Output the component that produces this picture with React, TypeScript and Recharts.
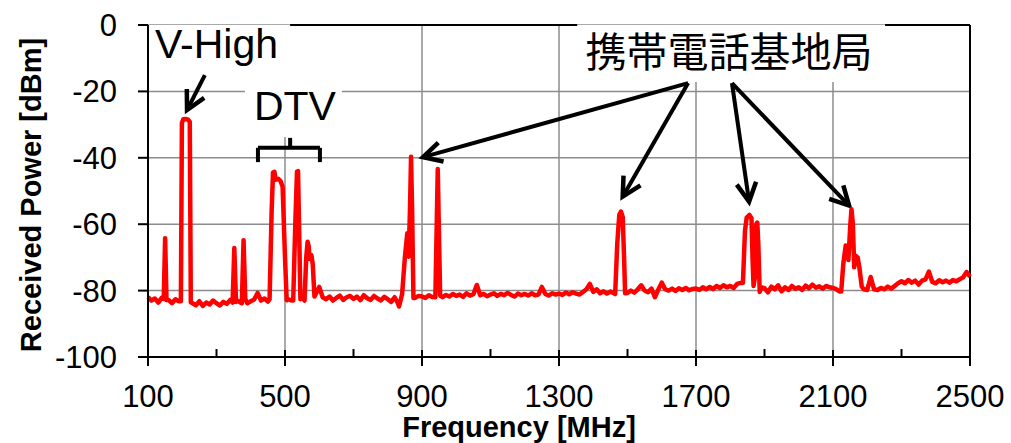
import React from 'react';
import { LineChart, Line, XAxis, YAxis, CartesianGrid, ReferenceArea, ReferenceLine } from 'recharts';

const FONT = '"Liberation Sans", Arial, sans-serif';
const JP_FONT = '"Noto Sans CJK JP", "Noto Sans CJK SC", sans-serif';

// ---- axes ----
const xTicks = [100, 500, 900, 1300, 1700, 2100, 2500];
const xMinorTicks = [300, 700, 1100, 1500, 1900, 2300];
const xInnerMajor = [500, 900, 1300, 1700, 2100];
const yTicks = [0, -20, -40, -60, -80, -100];

// ---- measured noise floor, 10 MHz grid from 100 MHz ----
const noiseStartMHz = 100;
const noiseStepMHz = 10;
const noiseFloorDbm = [
  -82.0, -83.0, -82.4, -83.6, -82.2, -83.4, -82.8, -83.8, -82.6, -83.2, // 100
  -83.5, -84.0, -82.9, -83.8, -84.4, -83.2, -84.6, -83.6, -84.2, -83.0, // 200
  -83.8, -84.5, -83.4, -84.0, -82.8, -83.9, -83.0, -83.6, -82.6, -83.8, // 300
  -83.2, -82.7, -80.7, -83.0, -82.4, -83.3, -82.6, -83.0, -82.5, -82.8, // 400
  -83.3, -82.6, -83.0, -82.4, -83.0, -82.2, -82.8, -82.0, -81.4, -81.0, // 500
  -78.9, -82.0, -82.6, -81.8, -83.0, -82.2, -81.5, -82.8, -82.0, -81.6, // 600
  -82.5, -81.8, -82.9, -81.4, -82.3, -82.8, -81.6, -82.4, -83.0, -81.9, // 700
  -82.6, -83.4, -82.0, -83.9, -83.0, -82.0, -82.0, -82.0, -82.2, -81.6, // 800
  -81.8, -82.2, -81.4, -81.9, -81.2, -81.5, -82.0, -81.3, -81.8, -81.0, // 900
  -81.6, -81.2, -81.9, -80.8, -81.5, -81.1, -78.3, -81.4, -81.0, -81.7, // 1000
  -81.2, -80.8, -81.6, -81.0, -81.4, -80.7, -81.3, -81.8, -80.9, -81.4, // 1100
  -81.0, -81.5, -80.8, -81.4, -81.2, -78.9, -81.0, -81.5, -80.8, -81.2, // 1200
  -80.9, -81.3, -80.6, -81.1, -80.5, -80.9, -81.2, -80.4, -79.6, -78.0, // 1300
  -80.4, -79.6, -80.8, -80.2, -80.9, -80.3, -80.8, -80.0, -80.0, -80.0, // 1400
  -80.7, -80.0, -80.6, -79.6, -78.4, -80.0, -80.5, -79.4, -82.0, -79.7, // 1500
  -77.6, -79.6, -80.0, -79.4, -80.1, -79.3, -79.8, -79.2, -79.9, -79.5, // 1600
  -79.4, -79.8, -79.0, -79.6, -78.9, -79.5, -78.6, -79.2, -78.4, -79.0, // 1700
  -78.6, -79.2, -78.0, -77.7, -79.0, -79.0, -79.0, -79.0, -79.0, -79.0, // 1800
  -79.3, -80.5, -78.8, -79.6, -78.4, -80.2, -79.0, -79.8, -78.6, -79.4, // 1900
  -79.0, -79.8, -78.5, -79.3, -78.2, -79.1, -78.7, -79.4, -78.6, -79.0, // 2000
  -79.2, -79.6, -80.3, -79.0, -79.0, -79.0, -79.0, -79.0, -79.0, -79.6, // 2100
  -79.8, -75.9, -79.6, -79.8, -79.2, -79.6, -78.8, -79.4, -78.6, -77.8, // 2200
  -77.2, -77.8, -76.8, -77.6, -77.0, -78.2, -77.0, -76.6, -74.3, -77.4, // 2300
  -77.8, -76.9, -77.5, -77.0, -77.6, -76.8, -77.2, -76.6, -76.0, -74.4, // 2400
  -75.8, // 2500
];

// ---- signal peaks [MHz, dBm] ----
const peak150: number[][] = [[146, -82.5], [150, -64.2], [154, -82.8]];
const peakVHigh: number[][] = [[196, -83.2], [199, -29.5], [203, -28.4], [210, -28.3], [217, -28.5], [222, -29.2], [225, -83.5]];
const peak352: number[][] = [[347, -83.6], [352, -67.2], [357, -83.4]];
const peak379: number[][] = [[374, -83.8], [379, -64.8], [384, -82.5]];
const peakDtv1: number[][] = [[455, -82.6], [461, -56], [465, -44.4], [469, -44.2], [473, -46.6], [480, -46.3], [487, -47.0], [493, -48.7], [500, -70], [505, -82.9]];
const peakDtv2: number[][] = [[524, -83.0], [530, -60], [535, -44.2], [538, -44.0], [541, -60], [545, -82.6]];
const peakDtv3: number[][] = [[557, -83.0], [562, -70], [566, -65.3], [569, -66.5], [572, -70.5], [577, -69.3], [581, -72], [586, -81.8]];
const peak868: number[][] = [[833, -84.8], [842, -81], [850, -70], [857, -62.7], [861, -69.8], [865, -55], [868, -39.7], [871, -55], [875, -82.2]];
const peak946: number[][] = [[939, -82.0], [943, -60], [946, -43.4], [949, -60], [953, -81.5]];
const peak1480: number[][] = [[1464, -81.0], [1470, -66], [1476, -57.2], [1481, -56.2], [1486, -57.8], [1490, -70], [1493, -80.8]];
const peak1858: number[][] = [[1837, -77.7], [1843, -62], [1848, -58], [1856, -57.2], [1862, -58.2], [1865, -70], [1868, -78.6], [1872, -76], [1876, -60], [1879, -59.5], [1882, -66], [1886, -80.4]];
const peak2154: number[][] = [[2124, -80.3], [2130, -72], [2137, -66.4], [2141, -67.2], [2145, -70.8], [2150, -61], [2154, -55.5], [2158, -60], [2162, -73], [2166, -69.5], [2172, -70], [2177, -73], [2184, -78.8]];

const peakSegments = [peak150, peakVHigh, peak352, peak379, peakDtv1, peakDtv2, peakDtv3, peak868, peak946, peak1480, peak1858, peak2154];

// ---- annotations (data coords) ----
const vHighArrow = [[266, -15.1], [214, -25.6]];
const cellArrows = [
  [[1677, -17.5], [903, -39.8]],
  [[1677, -17.5], [1486, -51.7]],
  [[1805, -17.5], [1855, -53.2]],
  [[1805, -17.5], [2147, -54.4]],
];
const dtvBracket = { left: 421, right: 602, center: 515, level: -37, tipDown: -41.3, tipUp: -34 };
const vHighBox = { x1: 103, x2: 515, y1: 0, y2: -16.6 };
const dtvBox = { x1: 383, x2: 666, y1: -16, y2: -33.7 };
const cellBox = { x1: 1353, x2: 2252, y1: 0, y2: -17.2 };

// ---- build table ----
const inPeak = (f: number) => peakSegments.some((s) => f >= s[0][0] && f <= s[s.length - 1][0]);
const data = [
  ...noiseFloorDbm.map((p, i) => ({ f: noiseStartMHz + i * noiseStepMHz, p })).filter((d) => !inPeak(d.f)),
  ...peakSegments.flat().map(([f, p]) => ({ f, p })),
].sort((a, b) => a.f - b.f);

const ArrowShape = (props: any) => {
  const { x1, y1, x2, y2 } = props;
  const ang = Math.atan2(y2 - y1, x2 - x1);
  const L = 21;
  const spread = Math.PI / 6.5;
  const ax = x2 - L * Math.cos(ang - spread);
  const ay = y2 - L * Math.sin(ang - spread);
  const bx = x2 - L * Math.cos(ang + spread);
  const by = y2 - L * Math.sin(ang + spread);
  return (
    <g>
      <line x1={x1} y1={y1} x2={x2} y2={y2} stroke="#000" strokeWidth={4} />
      <polyline points={`${ax},${ay} ${x2},${y2} ${bx},${by}`} fill="none" stroke="#000" strokeWidth={4.5} strokeLinejoin="miter" />
    </g>
  );
};

const yTitle = (props: any) => {
  const vb = props.viewBox || { x: 0, y: 25, width: 148, height: 332 };
  const x = vb.x + 41;
  const y = vb.y + vb.height / 2 + 4;
  return (
    <text x={x} y={y} transform={`rotate(-90, ${x}, ${y})`} textAnchor="middle" fontFamily={FONT} fontWeight="bold" fontSize={29} fill="#000">
      Received Power [dBm]
    </text>
  );
};

const xTitle = (props: any) => {
  const vb = props.viewBox || { x: 148, y: 357, width: 822, height: 86 };
  return (
    <text x={vb.x + vb.width / 2 - 40} y={vb.y + 80} textAnchor="middle" fontFamily={FONT} fontWeight="bold" fontSize={29} fill="#000">
      Frequency [MHz]
    </text>
  );
};

const vHighLabel = (props: any) => {
  const vb = props.viewBox;
  return (
    <text x={vb.x + 6} y={vb.y + 33} fontFamily={FONT} fontSize={41} fill="#000">V-High</text>
  );
};
const dtvLabel = (props: any) => {
  const vb = props.viewBox;
  return (
    <text x={vb.x + 9} y={vb.y + 42} fontFamily={FONT} fontSize={41} fill="#000">DTV</text>
  );
};
const cellLabel = (props: any) => {
  const vb = props.viewBox;
  return (
    <text x={vb.x + vb.width / 2 - 2} y={vb.y + 41.5} textAnchor="middle" fontFamily={JP_FONT} fontSize={41} fill="#000">携帯電話基地局</text>
  );
};

export default function App() {
  const blk = { stroke: '#000', strokeWidth: 2 };
  return (
    <div style={{ position: 'absolute', left: 0, top: 0, background: '#fff' }}>
      <LineChart width={1011} height={443} data={data} margin={{ top: 25, right: 41, bottom: 0, left: 0 }} style={{ fontFamily: FONT }}>
        <CartesianGrid stroke="#8c8c8c" strokeWidth={1.5} />
        <XAxis
          dataKey="f"
          type="number"
          domain={[100, 2500]}
          ticks={xTicks}
          interval={0}
          height={86}
          tickSize={9}
          tickMargin={19}
          axisLine={blk}
          tickLine={blk}
          tick={{ fill: '#000', fontSize: 31, fontFamily: FONT }}
          label={xTitle}
        />
        <YAxis
          type="number"
          domain={[-100, 0]}
          ticks={yTicks}
          interval={0}
          width={148}
          tickSize={10}
          tickMargin={21}
          axisLine={blk}
          tickLine={blk}
          tick={{ fill: '#000', fontSize: 31, fontFamily: FONT }}
          label={yTitle}
        />
        <ReferenceArea x1={vHighBox.x1} x2={vHighBox.x2} y1={vHighBox.y1} y2={vHighBox.y2} fill="#fff" fillOpacity={1} stroke="none" label={vHighLabel} />
        <ReferenceArea x1={dtvBox.x1} x2={dtvBox.x2} y1={dtvBox.y1} y2={dtvBox.y2} fill="#fff" fillOpacity={1} stroke="none" label={dtvLabel} />
        <ReferenceArea x1={cellBox.x1} x2={cellBox.x2} y1={cellBox.y1} y2={cellBox.y2} fill="#fff" fillOpacity={1} stroke="none" label={cellLabel} />
        {/* plot border: top (outside label boxes) and right */}
        <ReferenceLine segment={[{ x: vHighBox.x2, y: 0 }, { x: cellBox.x1, y: 0 }]} stroke="#000" strokeWidth={2} />
        <ReferenceLine segment={[{ x: cellBox.x2, y: 0 }, { x: 2500, y: 0 }]} stroke="#000" strokeWidth={2} />
        <ReferenceLine x={2500} stroke="#000" strokeWidth={2} />
        {/* inner tick marks */}
        {xMinorTicks.map((t) => (
          <ReferenceLine key={`mn${t}`} segment={[{ x: t, y: -100 }, { x: t, y: -97.6 }]} stroke="#000" strokeWidth={2} />
        ))}
        {xInnerMajor.map((t) => (
          <ReferenceLine key={`mj${t}`} segment={[{ x: t, y: -100 }, { x: t, y: -97.9 }]} stroke="#000" strokeWidth={2} />
        ))}
        {/* DTV bracket */}
        <ReferenceLine segment={[{ x: dtvBracket.left, y: dtvBracket.level }, { x: dtvBracket.right, y: dtvBracket.level }]} stroke="#000" strokeWidth={4} />
        <ReferenceLine segment={[{ x: dtvBracket.left, y: dtvBracket.level }, { x: dtvBracket.left, y: dtvBracket.tipDown }]} stroke="#000" strokeWidth={4} />
        <ReferenceLine segment={[{ x: dtvBracket.right, y: dtvBracket.level }, { x: dtvBracket.right, y: dtvBracket.tipDown }]} stroke="#000" strokeWidth={4} />
        <ReferenceLine segment={[{ x: dtvBracket.center, y: dtvBracket.level }, { x: dtvBracket.center, y: dtvBracket.tipUp }]} stroke="#000" strokeWidth={4} />
        {/* arrows */}
        <ReferenceLine segment={[{ x: vHighArrow[0][0], y: vHighArrow[0][1] }, { x: vHighArrow[1][0], y: vHighArrow[1][1] }]} shape={ArrowShape} />
        {cellArrows.map((a, i) => (
          <ReferenceLine key={`ar${i}`} segment={[{ x: a[0][0], y: a[0][1] }, { x: a[1][0], y: a[1][1] }]} shape={ArrowShape} />
        ))}
        <Line
          type="linear"
          dataKey="p"
          stroke="#ff0000"
          strokeWidth={4.5}
          strokeLinejoin="round"
          dot={false}
          activeDot={false}
          isAnimationActive={false}
        />
      </LineChart>
    </div>
  );
}
